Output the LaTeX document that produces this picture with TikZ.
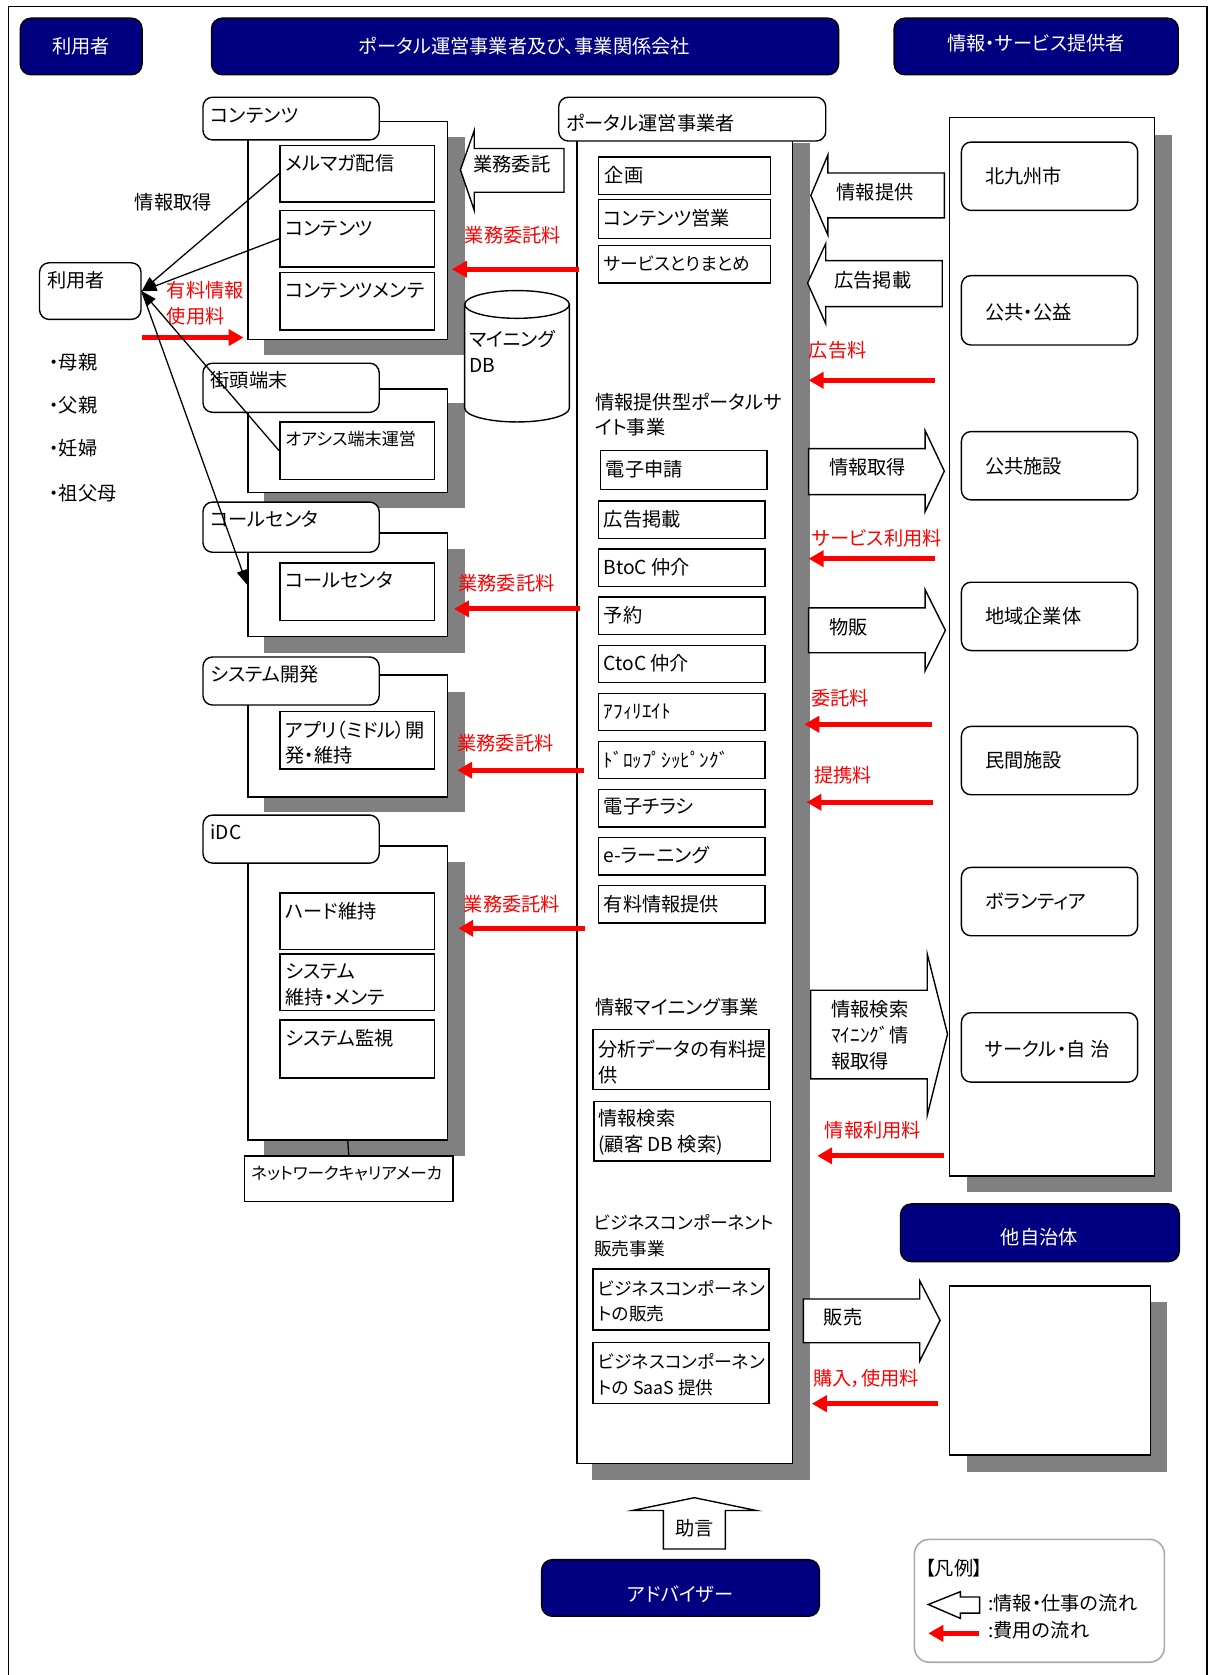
\documentclass[tikz,border=0pt]{standalone}
\usepackage{fontspec}
\setmainfont{Noto Sans CJK JP}[RawFeature=+palt]
\usetikzlibrary{arrows.meta,fit}
\definecolor{navyc}{RGB}{0,0,128}
\definecolor{shadowc}{RGB}{128,128,128}
\definecolor{legc}{RGB}{170,170,170}
\newcommand\fsA{\fontsize{18}{24}\selectfont}
\newcommand\fsB{\fontsize{16}{24}\selectfont}
\newcommand\fsC{\fontsize{16.6}{24}\selectfont}
\newcommand\fsD{\fontsize{15.5}{24}\selectfont}
\tikzset{
 bx/.style={draw, line width=1.3pt, fill=white, inner sep=0pt},
 rbx/.style={bx, rounded corners=9pt},
 hdr/.style={draw=black, line width=1.3pt, fill=navyc, rounded corners=10pt, inner sep=0pt},
 htx/.style={inner sep=0pt, anchor=center, text=white, font=\fsA},
 shd/.style={fill=shadowc, draw=none},
 tx/.style={inner sep=0pt, anchor=west, font=\fsA, align=left},
 rtx/.style={tx, text=red},
 redarr/.style={draw=red, line width=4.5pt, -{Triangle[length=14pt,width=15pt]}},
 blarr/.style={draw, line width=1.2pt, -{Triangle[length=14pt,width=10pt]}},
 blk/.style={draw, line width=1.3pt, fill=white, line join=miter},
}
\begin{document}
\begin{tikzpicture}[x=1pt,y=-1pt]
\useasboundingbox (0,0) rectangle (1134,1568);
\draw[line width=1.3pt] (8,1580) -- (8,6) -- (1130,6) -- (1130,1580);

% headers
\node[hdr, fit={(19,17)(133,70)}] (hU) {};
\node[htx] (hUt) at (76,43) {利用者};
\node[hdr, fit={(198,17)(785,70)}] (hP) {};
\node[htx] (hPt) at (491,43) {ポータル運営事業者及び、事業関係会社};
\node[hdr, fit={(837,17)(1103,70)}] (hS) {};
\node[htx] (hSt) at (970,40) {情報・サービス提供者};

% user
\node[rbx, fit={(37,246)(132,299)}] (user) {};
\node[tx] (usert) at (44,262) {利用者};
\node[tx] (get) at (126,189) {情報取得};
\node[rtx] (paid) at (156,272) {有料情報};
\node[rtx] (paid2) at (156,296) {使用料};
\node[tx] (b1) at (46,339) {・母親};
\node[tx] (b2) at (46,379) {・父親};
\node[tx] (b3) at (46,420) {・妊婦};
\node[tx] (b4) at (46,462) {・祖父母};

% ---- left groups ----
% contents
\fill[shd] (247,128) rectangle (435,332);
\node[bx, fit={(232,114)(419,318)}] (gC) {};
\node[rbx, fit={(190,91)(355,131)}] (gCl) {};
\node[tx] (gClt) at (197,108) {コンテンツ};
\node[bx, fit={(262,136)(407,189)}] (mm) {};
\node[tx] (mmt) at (267,153) {メルマガ配信};
\node[bx, fit={(262,197)(407,250)}] (ct) {};
\node[tx] (ctt) at (267,214) {コンテンツ};
\node[bx, fit={(262,255)(407,309)}] (cm) {};
\node[tx] (cmt) at (267,272) {コンテンツメンテ};

% street terminal
\fill[shd] (247,377) rectangle (435,476);
\node[bx, fit={(232,364)(419,461)}] (gS) {};
\node[rbx, fit={(190,340)(355,386)}] (gSl) {};
\node[tx] (gSlt) at (197,356) {街頭端末};
\node[bx, fit={(262,395)(407,449)}] (oa) {};
\node[tx, font=\fsB] (oat) at (267,411) {オアシス端末運営};

% call center
\fill[shd] (247,514) rectangle (435,611);
\node[bx, fit={(232,499)(419,596)}] (gK) {};
\node[rbx, fit={(190,470)(355,517)}] (gKl) {};
\node[tx] (gKlt) at (197,486) {コールセンタ};
\node[bx, fit={(262,527)(407,581)}] (cc) {};
\node[tx] (cct) at (267,543) {コールセンタ};

% system dev
\fill[shd] (247,648) rectangle (435,760);
\node[bx, fit={(232,632)(419,746)}] (gD) {};
\node[rbx, fit={(190,615)(355,660)}] (gDl) {};
\node[tx] (gDlt) at (197,631) {システム開発};
\node[bx, fit={(262,666)(407,720)}] (ap) {};
\node[tx] (apt) at (267,695) {アプリ（ミドル）開\\発・維持};

% iDC
\fill[shd] (247,807) rectangle (435,1082);
\node[bx, fit={(232,792)(419,1067)}] (gI) {};
\node[rbx, fit={(190,763)(355,808)}] (gIl) {};
\node[tx] (gIlt) at (197,779) {iDC};
\node[bx, fit={(262,836)(407,889)}] (hw) {};
\node[tx] (hwt) at (267,853) {ハード維持};
\node[bx, fit={(262,893)(407,946)}] (sm) {};
\node[tx] (smt) at (267,922) {システム\\維持・メンテ};
\node[bx, fit={(262,955)(407,1009)}] (sv) {};
\node[tx] (svt) at (267,972) {システム監視};
\node[bx, fit={(229,1082)(424,1125)}] (net) {};
\node[tx, font=\fsD] (nett) at (235,1099) {ネットワークキャリアメーカ};
\draw[line width=1.2pt] (gI.south) -- (net.north);

% mining DB cylinder
\fill[white] (435,285) -- (435,382) arc[start angle=180,end angle=0,x radius=49,y radius=13] -- (533,285) arc[start angle=0,end angle=180,x radius=49,y radius=13] -- cycle;
\draw[line width=1.3pt] (435,285) -- (435,382) arc[start angle=180,end angle=0,x radius=49,y radius=13] -- (533,285);
\draw[line width=1.3pt] (484,285) ellipse[x radius=49,y radius=13];
\node[tx] (dbt) at (439,329) {マイニング\\DB};

% 業務委託 block arrow
\draw[blk] (431,159) -- (444,122) -- (444,139) -- (528,139) -- (528,180) -- (444,180) -- (444,197) -- cycle;
\node[tx] (gyt) at (443,154) {業務委託};

% ---- portal ----
\fill[shd] (554,134) rectangle (758,1385);
\node[bx, fit={(540,120)(742,1370)}] (portal) {};
\node[rbx, fit={(523,91)(773,132)}] (portall) {};
\node[tx] (portallt) at (530,115) {ポータル運営事業者};
\node[bx, fit={(560,147)(721,182)}] (p1) {};
\node[tx] (p1t) at (566,164) {企画};
\node[bx, fit={(560,187)(721,223)}] (p2) {};
\node[tx] (p2t) at (565,204) {コンテンツ営業};
\node[bx, fit={(560,230)(721,265)}] (p3) {};
\node[tx, font=\fsC] (p3t) at (565,247) {サービスとりまとめ};
\node[tx] (s1) at (557,388) {情報提供型ポータルサ\\イト事業};
\node[bx, fit={(562,422)(718,458)}] (q1) {};
\node[tx] (q1t) at (567,439) {電子申請};
\node[bx, fit={(560,469)(716,504)}] (q2) {};
\node[tx] (q2t) at (565,486) {広告掲載};
\node[bx, fit={(560,514)(716,549)}] (q3) {};
\node[tx] (q3t) at (565,531) {BtoC 仲介};
\node[bx, fit={(560,559)(716,594)}] (q4) {};
\node[tx] (q4t) at (565,576) {予約};
\node[bx, fit={(560,604)(716,639)}] (q5) {};
\node[tx] (q5t) at (565,621) {CtoC 仲介};
\node[bx, fit={(560,649)(716,684)}] (q6) {};
\node[tx] (q6t) at (565,666) {ｱﾌｨﾘｴｲﾄ};
\node[bx, fit={(560,694)(716,729)}] (q7) {};
\node[tx] (q7t) at (565,711) {ﾄﾞﾛｯﾌﾟｼｯﾋﾟﾝｸﾞ};
\node[bx, fit={(560,739)(716,774)}] (q8) {};
\node[tx] (q8t) at (565,755) {電子チラシ};
\node[bx, fit={(560,784)(716,819)}] (q9) {};
\node[tx] (q9t) at (565,800) {e-ラーニング};
\node[bx, fit={(560,829)(716,864)}] (q10) {};
\node[tx] (q10t) at (565,846) {有料情報提供};
\node[tx] (s2) at (557,943) {情報マイニング事業};
\node[bx, fit={(555,964)(720,1020)}] (m1) {};
\node[tx] (m1t) at (560,994) {分析データの有料提\\供};
\node[bx, fit={(556,1031)(721,1087)}] (m2) {};
\node[tx] (m2t) at (560,1060) {情報検索\\(顧客 DB 検索)};
\node[tx, font=\fsC] (s3) at (556,1157) {ビジネスコンポーネント\\販売事業};
\node[bx, fit={(555,1188)(720,1245)}] (c1) {};
\node[tx, font=\fsC] (c1t) at (560,1218) {ビジネスコンポーネン\\トの販売};
\node[bx, fit={(555,1257)(720,1314)}] (c2) {};
\node[tx, font=\fsC] (c2t) at (560,1287) {ビジネスコンポーネン\\トの SaaS 提供};

% ---- right column ----
\fill[shd] (905,126) rectangle (1097,1116);
\node[bx, fit={(889,110)(1081,1101)}] (prov) {};
\node[rbx, fit={(900,133)(1065,197)}] (r1) {};
\node[tx] (r1t) at (922,165) {北九州市};
\node[rbx, fit={(900,258)(1065,323)}] (r2) {};
\node[tx] (r2t) at (922,292) {公共・公益};
\node[rbx, fit={(900,404)(1065,468)}] (r3) {};
\node[tx] (r3t) at (922,436) {公共施設};
\node[rbx, fit={(900,545)(1065,609)}] (r4) {};
\node[tx] (r4t) at (922,577) {地域企業体};
\node[rbx, fit={(900,680)(1065,744)}] (r5) {};
\node[tx] (r5t) at (922,712) {民間施設};
\node[rbx, fit={(900,812)(1065,876)}] (r6) {};
\node[tx] (r6t) at (922,844) {ボランティア};
\node[rbx, fit={(900,948)(1065,1013)}] (r7) {};
\node[tx] (r7t) at (922,982) {サークル・自 治};

\node[hdr, fit={(843,1127)(1104,1181)}] (hO) {};
\node[htx] (hOt) at (973,1158) {他自治体};
\fill[shd] (905,1219) rectangle (1092,1378);
\node[bx, fit={(889,1204)(1077,1362)}] (other) {};

% ---- middle block arrows ----
\draw[blk] (759,183) -- (775,145) -- (775,162) -- (884,162) -- (884,204) -- (775,204) -- (775,220) -- cycle;
\node[tx] (a1t) at (783,180) {情報提供};
\draw[blk] (756,265) -- (773,228) -- (773,244) -- (882,244) -- (882,287) -- (773,287) -- (773,303) -- cycle;
\node[tx] (a2t) at (781,262) {広告掲載};
\draw[blk] (757,420) -- (866,420) -- (866,403) -- (884,441) -- (866,479) -- (866,463) -- (757,463) -- cycle;
\node[tx] (a3t) at (776,437) {情報取得};
\draw[blk] (757,569) -- (866,569) -- (866,552) -- (885,590) -- (866,628) -- (866,611) -- (757,611) -- cycle;
\node[tx] (a4t) at (776,587) {物販};
\draw[blk] (759,927) -- (868,927) -- (868,893) -- (887,968) -- (868,1044) -- (868,1010) -- (759,1010) -- cycle;
\node[tx] (a5t) at (778,969) {情報検索\\ﾏｲﾆﾝｸﾞ情\\報取得};
\draw[blk] (752,1216) -- (861,1216) -- (861,1199) -- (880,1236) -- (861,1274) -- (861,1257) -- (752,1257) -- cycle;
\node[tx] (a6t) at (771,1233) {販売};

% advice
\draw[blk] (650,1402) -- (708,1414) -- (679,1414) -- (679,1450) -- (621,1450) -- (621,1414) -- (592,1414) -- cycle;
\node[tx, anchor=center] (a7t) at (650,1431) {助言};
\node[hdr, fit={(507,1460)(767,1513)}] (adv) {};
\node[htx] (advt) at (637,1492) {アドバイザー};

% red labels
\node[rtx] (l1) at (435,220) {業務委託料};
\node[rtx] (l2) at (429,546) {業務委託料};
\node[rtx] (l3) at (428,696) {業務委託料};
\node[rtx] (l4) at (434,846) {業務委託料};
\node[rtx] (l5) at (757,328) {広告料};
\node[rtx] (l6) at (760,504) {サービス利用料};
\node[rtx] (l7) at (759,654) {委託料};
\node[rtx] (l8) at (762,726) {提携料};
\node[rtx] (l9) at (772,1058) {情報利用料};
\node[rtx] (l10) at (761,1290) {購入，使用料};

% red arrows
\coordinate (e1s) at (542,252); \coordinate (e1e) at (423,252);
\coordinate (e2s) at (543,570); \coordinate (e2e) at (425,570);
\coordinate (e3s) at (547,721); \coordinate (e3e) at (428,721);
\coordinate (e4s) at (548,869); \coordinate (e4e) at (429,869);
\coordinate (e5s) at (875,356); \coordinate (e5e) at (757,356);
\coordinate (e6s) at (875,523); \coordinate (e6e) at (757,523);
\coordinate (e7s) at (872,678); \coordinate (e7e) at (753,678);
\coordinate (e8s) at (873,751); \coordinate (e8e) at (755,751);
\coordinate (e9s) at (884,1082); \coordinate (e9e) at (765,1082);
\coordinate (e10s) at (878,1314); \coordinate (e10e) at (760,1314);
\coordinate (e11s) at (133,316); \coordinate (e11e) at (228,316);
\foreach \i in {1,...,11} {\draw[redarr] (e\i s) -- (e\i e);}

% user connectors
\draw[blarr] (mm.west) -- (user.east);
\draw[blarr] (ct.west) -- (user.east);
\draw[blarr] (oa.west) -- (user.east);
\draw[blarr] (user.east) -- (gK.west);

% legend
\node[draw=legc, line width=1.5pt, rounded corners=14pt, fit={(856,1441)(1090,1556)}, inner sep=0pt] (leg) {};
\node[tx] (legt) at (866,1468) {【凡例】};
\draw[blk] (869,1502) -- (899,1490) -- (899,1495) -- (917,1495) -- (917,1510) -- (899,1510) -- (899,1515) -- cycle;
\node[tx] (leg1) at (925,1501) {:情報・仕事の流れ};
\coordinate (lgs) at (916,1529); \coordinate (lge) at (869,1529);
\draw[redarr] (lgs) -- (lge);
\node[tx] (leg2) at (925,1526) {:費用の流れ};
\end{tikzpicture}
\end{document}
